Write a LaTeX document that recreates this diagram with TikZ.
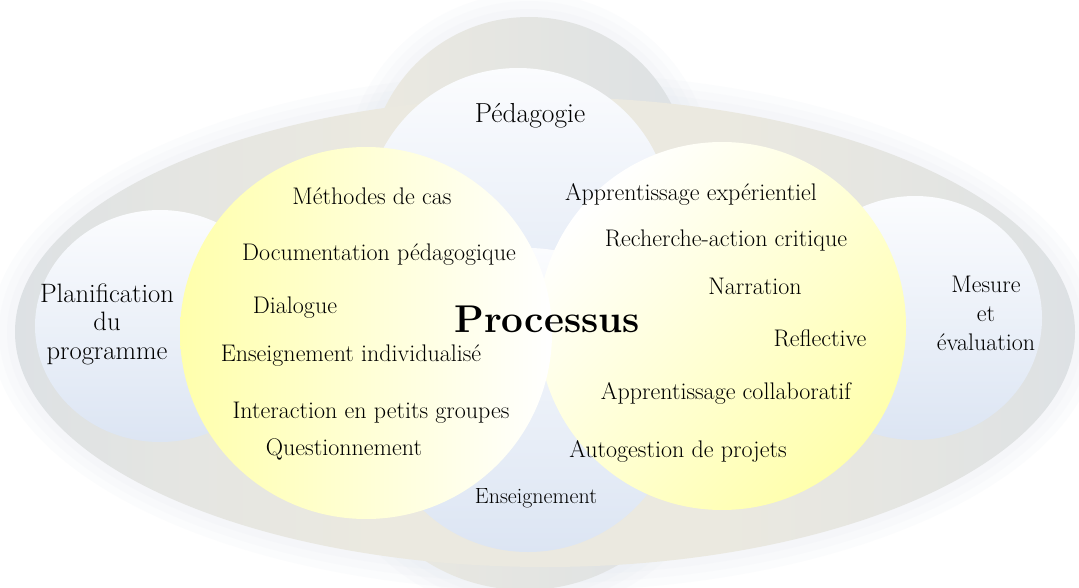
\documentclass[tikz,border=0pt]{standalone}
\usepackage{fontspec}
\definecolor{band}{RGB}{235,233,224}
\definecolor{bandg}{RGB}{221,225,228}
\definecolor{innerT}{RGB}{251,252,254}
\definecolor{innerB}{RGB}{220,229,243}
\definecolor{yel}{RGB}{255,255,172}
\definecolor{halo}{RGB}{222,228,238}
\colorlet{bandm}{band!50!bandg}
\pgfdeclarehorizontalshading{bandshade}{100bp}{color(0bp)=(bandg); color(25bp)=(bandg); color(32bp)=(bandm); color(42bp)=(band); color(58bp)=(band); color(68bp)=(bandm); color(75bp)=(bandg); color(100bp)=(bandg)}
\begin{document}
\begin{tikzpicture}[x=1pt,y=-1pt,
  every node/.style={inner sep=0pt},
  lbl/.style={anchor=base, align=center, font=\fontsize{24}{28}\selectfont},
  big/.style={anchor=base, align=center, font=\fontsize{38.7}{44}\selectfont\bfseries},
  ring/.style={left color=band, right color=bandg},
  inner/.style={top color=innerT, bottom color=innerB}]
\useasboundingbox (0,0) rectangle (1079,588);
\clip (0,0) rectangle (1079,588);
\fill[white] (0,0) rectangle (1079,588);
% soft halo
\foreach \d in {24,16,8}{
  \fill[halo, opacity=0.1] (545,332) ellipse [x radius=530pt+\d pt, y radius=235pt+\d pt];
  \fill[halo, opacity=0.1] (529,177) circle [radius=160pt+\d pt];
  \fill[halo, opacity=0.1] (525,405) circle [radius=185pt+\d pt];
}
% outer grey shapes
\shade[ring] (529,177) circle [radius=160pt];
\shade[ring] (525,405) circle [radius=185pt];
\shade[shading=bandshade] (545,332) ellipse [x radius=530pt, y radius=235pt];
% inner light shapes
\shade[inner] (518,221) circle [radius=153pt];
\shade[inner] (528,400) circle [radius=152pt];
\shade[inner] (160,326) ellipse [x radius=125pt, y radius=116pt];
\shade[inner] (915,318) ellipse [x radius=127pt, y radius=122pt];
% yellow circles
\shade[top color=white, bottom color=yel, shading angle=45] (722,326) circle [radius=184pt];
\shade[left color=yel, right color=white] (366,333) circle [radius=186pt];
% labels
\node[lbl, font=\fontsize{27.5}{32}\selectfont] (ped) at (530,123) {Pédagogie};
\node[lbl] (meth) at (372,205) {Méthodes de cas};
\node[lbl] (doc) at (379,261) {Documentation pédagogique};
\node[lbl] (dia) at (295,313) {Dialogue};
\node[lbl] (ens) at (351,361) {Enseignement individualisé};
\node[lbl] (inter) at (371,418) {Interaction en petits groupes};
\node[lbl] (quest) at (344,455) {Questionnement};
\node[lbl] (aexp) at (691,201) {Apprentissage expérientiel};
\node[lbl] (rech) at (726,247) {Recherche-action critique};
\node[lbl] (narr) at (755,294) {Narration};
\node[lbl] (refl) at (820,346) {Reflective};
\node[lbl] (acol) at (726,399) {Apprentissage collaboratif};
\node[lbl] (auto) at (678,457) {Autogestion de projets};
\node[big] (proc) at (547,332) {Processus};
\node[anchor=base, align=center, font=\fontsize{26.6}{28.5}\selectfont] (plan) at (107,359) {Planification\\du\\programme};
\node[anchor=base, align=center, font=\fontsize{24}{29}\selectfont] (mes) at (986,350) {Mesure\\et\\évaluation};
\node[lbl, font=\fontsize{22}{26}\selectfont] (enseig) at (536,503) {Enseignement};
\end{tikzpicture}
\end{document}
